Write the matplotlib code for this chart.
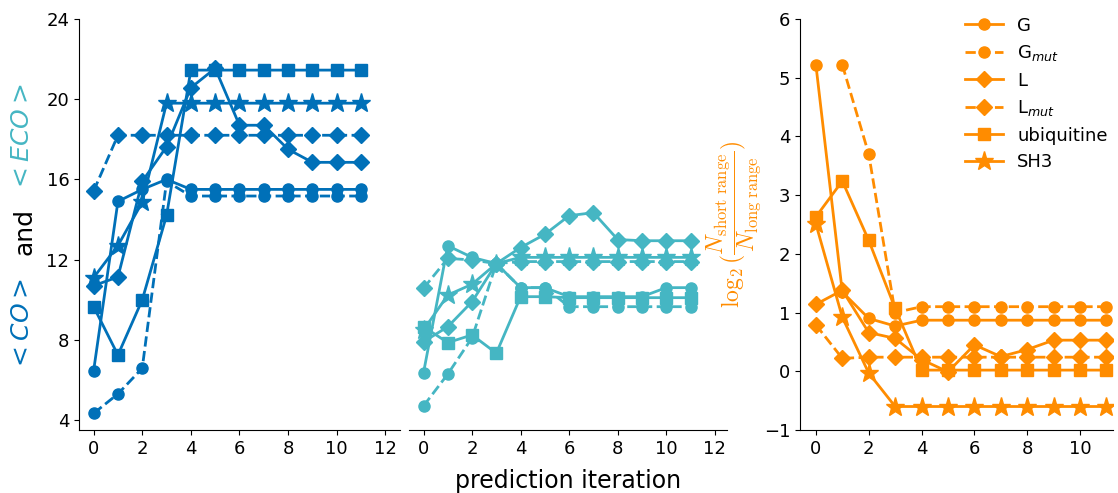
import numpy as np
import matplotlib.pyplot as plt

iters = np.arange(12)
nan = np.nan

# <CO> (left panel)
co_G = [6.46, 14.9, 15.5, 16.0, 15.5, 15.5, 15.5, 15.5, 15.5, 15.5, 15.5, 15.5]
co_Gmut = [4.33, 5.3, 6.58, 15.9, 15.17, 15.17, 15.17, 15.17, 15.17, 15.17, 15.17, 15.17]
co_L = [10.7, 11.13, 15.9, 17.63, 20.57, 21.54, 18.7, 18.7, 17.5, 16.85, 16.85, 16.85]
co_Lmut = [15.42, 18.2, 18.2, 18.2, 18.2, 18.2, 18.2, 18.2, 18.2, 18.2, 18.2, 18.2]
co_ubq = [9.65, 7.24, 9.99, 14.2, 21.45, 21.45, 21.45, 21.45, 21.45, 21.45, 21.45, 21.45]
co_sh3 = [11.1, 12.7, 14.86, 19.8, 19.8, 19.8, 19.8, 19.8, 19.8, 19.8, 19.8, 19.8]

# <ECO> (middle panel)
eco_G = [6.36, 12.69, 12.11, 11.8, 10.6, 10.6, 10.15, 10.15, 10.15, 10.15, 10.6, 10.6]
eco_Gmut = [4.7, 6.29, 8.1, 11.8, 10.6, 10.6, 9.65, 9.65, 9.65, 9.65, 9.65, 9.65]
eco_L = [7.9, 8.65, 9.9, 11.8, 12.6, 13.26, 14.19, 14.34, 13.0, 12.94, 12.94, 12.94]
eco_Lmut = [10.57, 12.06, 11.98, 11.8, 11.9, 11.9, 11.9, 11.9, 11.9, 11.9, 11.9, 11.9]
eco_ubq = [8.65, 7.86, 8.24, 7.33, 10.15, 10.15, 10.1, 10.1, 10.1, 10.1, 10.1, 10.1]
eco_sh3 = [8.49, 10.23, 10.77, 11.8, 12.11, 12.11, 12.11, 12.11, 12.11, 12.11, 12.11, 12.11]

# log2(N_short / N_long) (right panel)
lr_G = [5.22, 1.35, 0.9, 0.77, 0.87, 0.87, 0.87, 0.87, 0.87, 0.87, 0.87, 0.87]
lr_Gmut = [nan, 5.22, 3.7, 1.0, 1.1, 1.1, 1.1, 1.1, 1.1, 1.1, 1.1, 1.1]
lr_L = [1.14, 1.38, 0.66, 0.56, 0.2, -0.01, 0.45, 0.25, 0.37, 0.53, 0.53, 0.53]
lr_Lmut = [0.79, 0.22, 0.24, 0.24, 0.24, 0.24, 0.24, 0.24, 0.24, 0.24, 0.24, 0.24]
lr_ubq = [2.63, 3.24, 2.23, 1.07, 0.02, 0.02, 0.02, 0.02, 0.02, 0.02, 0.02, 0.02]
lr_sh3 = [2.51, 0.92, -0.03, -0.6, -0.6, -0.6, -0.6, -0.6, -0.6, -0.6, -0.6, -0.6]

labels = ['G', 'G$_{mut}$', 'L', 'L$_{mut}$', 'ubiquitine', 'SH3']
styles = [('o', '-', 8), ('o', '--', 8), ('D', '-', 8), ('D', '--', 8),
          ('s', '-', 8), ('*', '-', 14)]

blue = '#0070b8'
cyan = '#45b6c3'
orange = '#ff8c00'

fig = plt.figure(figsize=(11.18, 4.93), dpi=100)
ax1 = fig.add_axes([0.0707, 0.1278, 0.287, 0.8337])
ax2 = fig.add_axes([0.3658, 0.1278, 0.2844, 0.8337], sharey=ax1)
ax3 = fig.add_axes([0.7156, 0.1278, 0.28, 0.8337])


def draw(ax, series, color):
    for ys, lab, (m, ls, ms) in zip(series, labels, styles):
        ax.plot(iters, ys, marker=m, linestyle=ls, markersize=ms,
                color=color, lw=2, label=lab)


draw(ax1, [co_G, co_Gmut, co_L, co_Lmut, co_ubq, co_sh3], blue)
draw(ax2, [eco_G, eco_Gmut, eco_L, eco_Lmut, eco_ubq, eco_sh3], cyan)
draw(ax3, [lr_G, lr_Gmut, lr_L, lr_Lmut, lr_ubq, lr_sh3], orange)

for ax in (ax1, ax2, ax3):
    ax.spines['top'].set_visible(False)
    ax.spines['right'].set_visible(False)
    ax.tick_params(labelsize=13)

ax1.set_ylim(3.5, 24)
ax1.set_yticks([4, 8, 12, 16, 20, 24])
ax1.set_xlim(-0.6, 12.6)
ax1.set_xticks(range(0, 13, 2))

ax2.set_xlim(-0.6, 12.5)
ax2.set_xticks(range(0, 13, 2))
ax2.spines['left'].set_visible(False)
ax2.tick_params(axis='y', left=False, labelleft=False)
ax2.set_xlabel('prediction iteration', fontsize=17, labelpad=8)

ax3.set_xlim(-0.6, 11.25)
ax3.set_xticks(range(0, 11, 2))
ax3.set_ylim(-1, 6)
ax3.set_yticks(range(-1, 7))
ax3.set_ylabel(r'$\log_2(\dfrac{N_{\rm short\ range}}{N_{\rm long\ range}})$',
               color=orange, fontsize=17, math_fontfamily='cm', labelpad=0)
ax3.legend(loc='upper right', bbox_to_anchor=(1.035, 1.045), frameon=False,
           fontsize=13, handlelength=2.1, labelspacing=0.47)

fig.text(0.02, 0.341, '$<CO>$', color=blue, fontsize=18, rotation=90,
         ha='center', va='center')
fig.text(0.022, 0.530, 'and', color='black', fontsize=18, rotation=90,
         ha='center', va='center')
fig.text(0.02, 0.72, '$<ECO>$', color=cyan, fontsize=18, rotation=90,
         ha='center', va='center')

fig.savefig('out.png', dpi=100)
